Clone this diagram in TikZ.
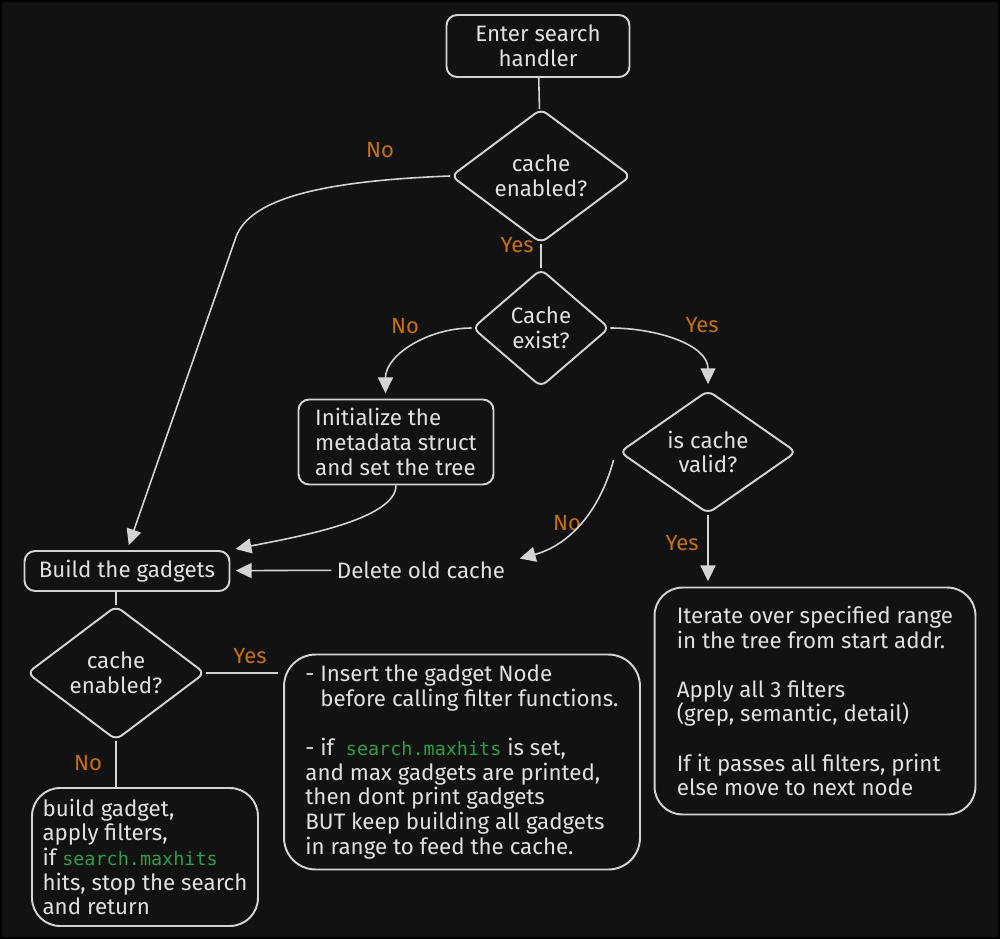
\documentclass[tikz,border=0pt]{standalone}
\usepackage{fontspec}
\setmainfont{Fira Sans}
\setmonofont{DejaVu Sans Mono}
\usetikzlibrary{
	shapes.geometric,
	arrows.meta,
	positioning,
	calc
}

\definecolor{bg}{HTML}{121212}
\definecolor{ink}{HTML}{E0E0E0}
\definecolor{edge}{HTML}{D4D4D4}
\definecolor{branchc}{HTML}{C8700E}
\definecolor{codegreen}{HTML}{2F9E44}

\newcommand{\gcode}[1]{{\ttfamily\fontsize{10.5}{14}\selectfont\color{codegreen}#1}}

\begin{document}
\begin{tikzpicture}[
				x=0.02cm, y=0.02cm,
				stage/.style={
					rectangle, draw=edge, line width=1.1pt, rounded corners=6pt,
					text=ink, align=center,
					font=\fontsize{12.7}{14}\selectfont
				},
				notebox/.style={
					stage, align=left, rounded corners=16pt
				},
				decision/.style={
					diamond, draw=edge, line width=1.1pt, rounded corners=4pt,
					text=ink, align=center, inner sep=0pt,
					font=\fontsize{12.7}{14}\selectfont
				},
				branch/.style={
					text=branchc, font=\fontsize{12.5}{14}\selectfont
				},
				link/.style={draw=edge, line width=0.9pt},
				arrow/.style={link, -{Triangle[length=9pt,width=8.5pt]}, shorten >=3pt}
				]
				
				% background
				\useasboundingbox (0,0) rectangle (1000,-939);
				\fill[black] (0,0) rectangle (1000,-939);
				\fill[bg] (2,-2) rectangle (998,-937);
				
				% Enter
				\node[stage, minimum width=3.66cm, minimum height=1.24cm] (enter) at (538,-46) {Enter search\\handler};
				
				% first check
				\node[decision, minimum width=3.6cm, minimum height=2.36cm] (d1) at (541,-176) {cache\\enabled?};
				
				% cache exists
				\node[decision, minimum width=2.74cm, minimum height=2.36cm] (d2) at (541,-328) {Cache\\exist?};
				
				% init
				\node[stage, align=left, minimum width=3.9cm, minimum height=1.7cm] (init) at (396,-442) {Initialize the\\metadata struct\\and set the tree};
				
				% valid
				\node[decision, minimum width=3.54cm, minimum height=2.38cm] (d3) at (708,-452) {is cache\\valid?};
				
				% delete
				\node[text=ink, inner sep=3pt, font=\fontsize{12.7}{14}\selectfont] (del) at (421,-570) {Delete old cache};
				
				% build
				\node[stage, minimum width=4.1cm, minimum height=0.8cm] (build) at (127,-571) {Build the gadgets};
				
				% second check
				\node[decision, minimum width=3.56cm, minimum height=2.38cm] (d4) at (116,-673) {cache\\enabled?};
				
				% cached build
				\node[notebox, rounded corners=18pt, minimum width=7.12cm, minimum height=4.3cm] (insert) at (462,-762) {- Insert the gadget Node\\\phantom{- }before calling filter functions.\\[14pt]- if~ \gcode{search.maxhits} is set,\\and max gadgets are printed,\\then dont print gadgets\\BUT keep building all gadgets\\in range to feed the cache.};
				
				% plain build
				\node[notebox, minimum width=4.52cm, minimum height=2.76cm] (plain) at (145,-857) {build gadget,\\apply filters,\\if \gcode{search.maxhits}\\hits, stop the search\\and return};
				
				% iterate
				\node[notebox, minimum width=6.42cm, minimum height=4.54cm] (iter) at (815,-701) {Iterate over specified range\\in the tree from start addr.\\[14pt]Apply all 3 filters\\(grep, semantic, detail)\\[14pt]If it passes all filters, print\\else move to next node};
				
				% branch labels
				\node[branch] (no1) at (380,-150) {No};
				\node[branch] (yes1) at (517,-245) {Yes};
				\node[branch] (no2) at (405,-326) {No};
				\node[branch] (yes2) at (702,-325) {Yes};
				\node[branch] (no3) at (567,-523) {No};
				\node[branch] (yes3) at (682,-543) {Yes};
				\node[branch] (yes4) at (250,-656) {Yes};
				\node[branch] (no4) at (88,-763) {No};
				
				% connectors
				\coordinate (bendA) at (236,-237);
				\draw[link] (enter) -- (d1);
				\draw[arrow] (d1.west) .. controls (320,-181) and (250,-199) .. (bendA) -- (build.north);
				\draw[link] (d1) -- (d2);
				\draw[arrow] (d2.west) to[out=180,in=90] ([xshift=-6pt]init.north);
				\draw[arrow] (d2.east) to[out=0,in=90] (d3.north);
				\draw[arrow] ([shift={(-5,-8)}]d3.west) to[out=255,in=15] ([shift={(4,-4)}]del.north east);
				\draw[arrow] (d3.south) -- (d3.south |- iter.north);
				\draw[arrow] (init.south) .. controls +(0,-35) and +(60,12) .. (build.north east);
				\draw[arrow] (del) -- (build);
				\draw[link] (d4.north |- build.south) -- (d4.north);
				\draw[link, shorten >=3pt] (d4.east) -- (d4.east -| insert.west);
				\draw[link] (d4.south) -- (d4.south |- plain.north);
			\end{tikzpicture}
\end{document}
